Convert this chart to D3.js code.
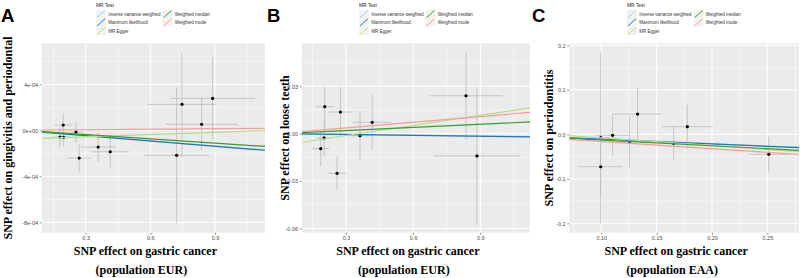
<!DOCTYPE html>
<html><head><meta charset="utf-8">
<script src="https://cdn.jsdelivr.net/npm/d3@7"></script>
<style>body{margin:0;background:#fff}svg{display:block}</style>
</head><body><svg id="chart" width="800" height="278"></svg>
<script>
// ---------- data ----------
const methods = ["Inverse variance weighted","Maximum likelihood","MR Egger","Weighted median","Weighted mode"];
const methodColors = ["#a6cee3","#1f78b4","#b2df8a","#33a02c","#fb9a99"];

// Panel A: gingivitis and periodontal (EUR)
const aX    = [0.196, 0.255, 0.181, 0.198, 0.270, 0.358, 0.414, 0.722, 0.747, 0.838, 0.889];
const aY    = [4.6e-5, -1.5e-5, -5.8e-5, -6.1e-5, -2.41e-4, -1.45e-4, -1.86e-4, -2.17e-4, 2.26e-4, 5.2e-5, 2.78e-4];
const aXse  = [0.043, 0.030, 0.038, 0.025, 0.056, 0.079, 0.087, 0.150, 0.160, 0.166, 0.196];
const aYse  = [1.0e-4, 9.0e-5, 9.0e-5, 8.0e-5, 1.25e-4, 1.3e-4, 1.35e-4, 5.9e-4, 4.56e-4, 2.25e-4, 3.55e-4];
const aSlopes = [-1.51e-4, -1.53e-4, 6.5e-5, -1.23e-4, 1.5e-5];
const aIntercepts = [0, 0, -7.6e-5, 0, 0];
const aXTicks = [0.3, 0.6, 0.9];
const aXTickLabels = ["0.3", "0.6", "0.9"];
const aYTicks = [4e-4, 0, -4e-4, -8e-4];
const aYTickLabels = ["4e-04", "0e+00", "-4e-04", "-8e-04"];
const aXMinor = [0.15, 0.45, 0.75, 1.05];
const aYMinor = [6e-4, 2e-4, -2e-4, -6e-4];

// Panel B: loose teeth (EUR)
const bX    = [0.205, 0.275, 0.202, 0.187, 0.260, 0.3625, 0.417, 0.836, 0.885];
const bY    = [0.0171, 0.0137, -0.0027, -0.0095, -0.0251, -0.0013, 0.0072, 0.0240, -0.0141];
const bXse  = [0.040, 0.054, 0.030, 0.039, 0.040, 0.050, 0.086, 0.164, 0.192];
const bYse  = [0.0127, 0.0158, 0.0116, 0.0110, 0.0108, 0.0158, 0.0176, 0.0277, 0.0435];
const bSlopes = [-0.0017, -0.0018, 0.0213, 0.0066, 0.0120];
const bIntercepts = [0, 0, -0.0076, 0, 0];
const bXTicks = [0.3, 0.6, 0.9];
const bXTickLabels = ["0.3", "0.6", "0.9"];
const bYTicks = [0.03, 0, -0.03, -0.06];
const bYTickLabels = ["0.03", "0.00", "-0.03", "-0.06"];
const bXMinor = [0.15, 0.45, 0.75, 1.05];
const bYMinor = [0.045, 0.015, -0.015, -0.045];

// Panel C: periodontitis (EAA)
const cX    = [0.0995, 0.0995, 0.1102, 0.1256, 0.1328, 0.1654, 0.1777, 0.2513];
const cY    = [-0.0076, -0.0728, -0.0023, -0.0166, 0.0456, -0.0202, 0.0171, -0.0450];
const cXse  = [0.008, 0.0196, 0.015, 0.008, 0.022, 0.012, 0.023, 0.018];
const cYse  = [0.193, 0.065, 0.047, 0.058, 0.060, 0.038, 0.049, 0.039];
const cSlopes = [-0.105, -0.108, -0.173, -0.129, -0.162];
const cIntercepts = [0, 0, 0.0093, 0, 0];
const cXTicks = [0.10, 0.15, 0.20, 0.25];
const cXTickLabels = ["0.10", "0.15", "0.20", "0.25"];
const cYTicks = [0.2, 0.1, 0, -0.1, -0.2];
const cYTickLabels = ["0.2", "0.1", "0.0", "-0.1", "-0.2"];
const cXMinor = [0.075, 0.125, 0.175, 0.225, 0.275];
const cYMinor = [0.15, 0.05, -0.05, -0.15];

const panelLetters = ["A", "B", "C"];
const yTitles = ["SNP effect on gingivitis and periodontal", "SNP effect on loose teeth", "SNP effect on periodontitis"];
const xTitle = "SNP effect on gastric cancer";
const xSubtitles = ["(population EUR)", "(population EUR)", "(population EAA)"];
const legendTitle = "MR Test";

// ---------- layout ----------
const panels = [
  {x:aX,y:aY,xse:aXse,yse:aYse,sl:aSlopes,ic:aIntercepts,xt:aXTicks,xtl:aXTickLabels,yt:aYTicks,ytl:aYTickLabels,xm:aXMinor,ym:aYMinor,
   xd:[0.096,1.132], yd:[-8.9e-4,7.57e-4], L:41.7, R:265, letterX:1, ytX:12, legX:96},
  {x:bX,y:bY,xse:bXse,yse:bYse,sl:bSlopes,ic:bIntercepts,xt:bXTicks,xtl:bXTickLabels,yt:bYTicks,ytl:bYTickLabels,xm:bXMinor,ym:bYMinor,
   xd:[0.102,1.122], yd:[-0.0627,0.0572], L:301.7, R:530, letterX:267, ytX:288.5, legX:359},
  {x:cX,y:cY,xse:cXse,yse:cYse,sl:cSlopes,ic:cIntercepts,xt:cXTicks,xtl:cXTickLabels,yt:cYTicks,ytl:cYTickLabels,xm:cXMinor,ym:cYMinor,
   xd:[0.0711,0.2786], yd:[-0.221,0.2045], L:569.3, R:799, letterX:532, ytX:553, legX:627}
];
const TOP = 43.3, BOT = 232.7;

const svg = d3.select("#chart");
svg.append("rect").attr("width",800).attr("height",278).attr("fill","#fff");
const defs = svg.append("defs");

panels.forEach((p, pi) => {
  const xs = d3.scaleLinear().domain(p.xd).range([p.L, p.R]);
  const ys = d3.scaleLinear().domain(p.yd).range([BOT, TOP]);
  const g = svg.append("g");

  defs.append("clipPath").attr("id","clip"+pi).append("rect")
    .attr("x",p.L).attr("y",TOP).attr("width",p.R-p.L).attr("height",BOT-TOP);

  // panel background
  g.append("rect").attr("x",p.L).attr("y",TOP).attr("width",p.R-p.L).attr("height",BOT-TOP).attr("fill","#ebebeb");
  // minor grid
  g.selectAll(".xm").data(p.xm.filter(v=>v>p.xd[0]&&v<p.xd[1])).join("line")
    .attr("x1",d=>xs(d)).attr("x2",d=>xs(d)).attr("y1",TOP).attr("y2",BOT)
    .attr("stroke","#fff").attr("stroke-width",0.5);
  g.selectAll(".ym").data(p.ym.filter(v=>v>p.yd[0]&&v<p.yd[1])).join("line")
    .attr("y1",d=>ys(d)).attr("y2",d=>ys(d)).attr("x1",p.L).attr("x2",p.R)
    .attr("stroke","#fff").attr("stroke-width",0.5);
  // major grid
  g.selectAll(".xg").data(p.xt).join("line")
    .attr("x1",d=>xs(d)).attr("x2",d=>xs(d)).attr("y1",TOP).attr("y2",BOT)
    .attr("stroke","#fff").attr("stroke-width",1);
  g.selectAll(".yg").data(p.yt).join("line")
    .attr("y1",d=>ys(d)).attr("y2",d=>ys(d)).attr("x1",p.L).attr("x2",p.R)
    .attr("stroke","#fff").attr("stroke-width",1);

  // axes
  const xAxis = d3.axisBottom(xs).tickValues(p.xt).tickFormat((d,i)=>p.xtl[i]).tickSize(2.2).tickPadding(1.5);
  const gx = svg.append("g").attr("transform",`translate(0,${BOT})`).call(xAxis);
  const yAxis = d3.axisLeft(ys).tickValues(p.yt).tickFormat((d,i)=>p.ytl[i]).tickSize(2.2).tickPadding(1.5);
  const gy = svg.append("g").attr("transform",`translate(${p.L},0)`).call(yAxis);
  [gx,gy].forEach(a=>{
    a.select(".domain").remove();
    a.selectAll(".tick line").attr("stroke","#333").attr("stroke-width",0.5);
    a.selectAll(".tick text").attr("fill","#4d4d4d").attr("font-size","5.5px").attr("font-family","Liberation Sans, Arial, sans-serif");
  });

  const pc = g.append("g").attr("clip-path",`url(#clip${pi})`);
  const idx = d3.range(p.x.length);
  // error bars
  pc.selectAll(".ev").data(idx).join("line")
    .attr("x1",i=>xs(p.x[i])).attr("x2",i=>xs(p.x[i]))
    .attr("y1",i=>ys(p.y[i]-p.yse[i])).attr("y2",i=>ys(p.y[i]+p.yse[i]))
    .attr("stroke","#b5b5b5").attr("stroke-width",0.7);
  pc.selectAll(".eh").data(idx).join("line")
    .attr("y1",i=>ys(p.y[i])).attr("y2",i=>ys(p.y[i]))
    .attr("x1",i=>xs(p.x[i]-p.xse[i])).attr("x2",i=>xs(p.x[i]+p.xse[i]))
    .attr("stroke","#b5b5b5").attr("stroke-width",0.7);
  // points
  pc.selectAll(".pt").data(idx).join("circle")
    .attr("cx",i=>xs(p.x[i])).attr("cy",i=>ys(p.y[i])).attr("r",1.6).attr("fill","#000");
  // regression lines
  pc.selectAll(".ab").data(d3.range(methods.length)).join("line")
    .attr("x1",p.L).attr("x2",p.R)
    .attr("y1",m=>ys(p.ic[m]+p.sl[m]*p.xd[0]))
    .attr("y2",m=>ys(p.ic[m]+p.sl[m]*p.xd[1]))
    .attr("stroke",m=>methodColors[m]).attr("stroke-width",1.2);

  // titles
  const serif = "Liberation Serif, Times New Roman, serif";
  const cx = (p.L+p.R)/2 - 8;
  svg.append("text").attr("x",cx).attr("y",255).attr("text-anchor","middle")
    .attr("font-family",serif).attr("font-weight","bold").attr("font-size","12px").attr("fill","#000").text(xTitle);
  svg.append("text").attr("x",cx-4).attr("y",273.5).attr("text-anchor","middle")
    .attr("font-family",serif).attr("font-weight","bold").attr("font-size","12px").attr("fill","#000").text(xSubtitles[pi]);
  svg.append("text").attr("transform",`translate(${p.ytX},${(TOP+BOT)/2}) rotate(-90)`).attr("text-anchor","middle")
    .attr("font-family",serif).attr("font-weight","bold").attr("font-size","12px").attr("fill","#000").text(yTitles[pi]);
  // panel letter
  svg.append("text").attr("x",p.letterX).attr("y",21.7)
    .attr("font-family","Liberation Sans, Arial, sans-serif").attr("font-weight","bold").attr("font-size","18.5px").attr("fill","#000").text(panelLetters[pi]);

  // legend
  const lg = svg.append("g").attr("transform",`translate(${p.legX},0)`);
  lg.append("text").attr("x",0).attr("y",6.8).attr("font-size","4.9px").attr("fill","#222")
    .attr("font-family","Liberation Sans, Arial, sans-serif").text(legendTitle);
  const rowY = [9.9, 18.2, 26.8];
  methods.forEach((m, k) => {
    const col = k < 3 ? 0 : 1, row = k < 3 ? k : k - 3;
    const kx = col === 0 ? 0 : 66.5, ky = rowY[row];
    lg.append("rect").attr("x",kx).attr("y",ky).attr("width",10).attr("height",8.3).attr("fill","#f2f2f2");
    lg.append("line").attr("x1",kx+1).attr("y1",ky+7.8).attr("x2",kx+9).attr("y2",ky+0.5)
      .attr("stroke",methodColors[k]).attr("stroke-width",1);
    lg.append("text").attr("x",kx+12.3).attr("y",ky+5.7).attr("font-size","4.5px").attr("fill","#333")
      .attr("font-family","Liberation Sans, Arial, sans-serif").text(m);
  });
});
</script>
</body></html>
